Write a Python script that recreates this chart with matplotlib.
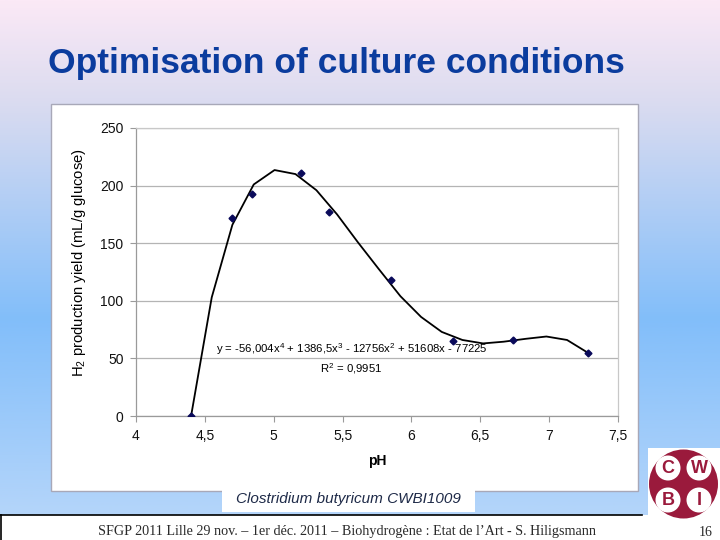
import numpy as np
import matplotlib
matplotlib.use("Agg")
import matplotlib.pyplot as plt
from matplotlib.colors import LinearSegmentedColormap
from matplotlib.patches import Rectangle, Circle

plt.rcParams['font.family'] = ['Liberation Sans', 'DejaVu Sans']
plt.rcParams['mathtext.fontset'] = 'custom'
plt.rcParams['mathtext.rm'] = 'Liberation Sans'
plt.rcParams['mathtext.it'] = 'Liberation Sans:italic'

# ---- data ----
ph_points = [4.40, 4.70, 4.84, 5.20, 5.40, 5.85, 6.30, 6.74, 7.28]
yield_points = [0, 172, 193, 211, 177, 118, 65, 66, 55]

trend_ph = [4.40, 4.55, 4.70, 4.855, 5.006, 5.158, 5.31, 5.46, 5.61, 5.76,
            5.92, 6.07, 6.22, 6.37, 6.52, 6.67, 6.83, 6.98, 7.13, 7.28]
trend_yield = [0, 103, 166, 201, 213.5, 210, 196, 175, 151, 128,
               104, 86, 73, 66, 63, 64.5, 67, 69, 66, 55]

x_ticks = [4, 4.5, 5, 5.5, 6, 6.5, 7, 7.5]
x_tick_labels = ["4", "4,5", "5", "5,5", "6", "6,5", "7", "7,5"]
y_ticks = [0, 50, 100, 150, 200, 250]

title = "Optimisation of culture conditions"
ylabel = "H$_2$ production yield (mL/g glucose)"
xlabel = "pH"
equation = "y = -56,004x$^4$ + 1386,5x$^3$ - 12756x$^2$ + 51608x - 77225"
r2_text = "R$^2$ = 0,9951"
caption = "Clostridium butyricum CWBI1009"
footer = "SFGP 2011 Lille 29 nov. – 1er déc. 2011 – Biohydrogène : Etat de l’Art - S. Hiligsmann"
page = "16"

W, H = 720, 540
fig = plt.figure(figsize=(7.2, 5.4), dpi=100)

# ---- background (pixel coordinates) ----
bg = fig.add_axes([0, 0, 1, 1])
bg.set_xlim(0, W)
bg.set_ylim(H, 0)
bg.axis('off')
cmap = LinearSegmentedColormap.from_list(
    "slide", [(0.0, "#fbe9f6"), (0.19, "#dcdcf0"), (0.62, "#82befa"), (1.0, "#b4d5fa")])
grad = np.linspace(0, 1, 256).reshape(-1, 1)
bg.imshow(grad, cmap=cmap, aspect='auto', extent=[0, W, 515, 0], zorder=0)
bg.add_patch(Rectangle((0, 515), W, 25, facecolor='white', edgecolor='none', zorder=1))
bg.plot([0, 642], [515, 515], color='black', lw=1.2, zorder=2)
bg.plot([1, 1], [515, 540], color='black', lw=1.2, zorder=2)

# chart panel
bg.add_patch(Rectangle((51, 104), 587, 387, facecolor='white', edgecolor='#a8a8b8', lw=1.0, zorder=2))

# caption box
bg.add_patch(Rectangle((222, 485), 253, 27, facecolor='white', edgecolor='none', zorder=3))
bg.text(348.5, 498.5, caption, fontsize=11, style='italic', color='#1e2a48',
        ha='center', va='center', zorder=4)

# title
bg.text(48, 63, title, fontsize=25.5, fontweight='bold', color='#0b3c9e',
        ha='left', va='center', zorder=4)

# footer
bg.text(347, 532, footer, fontsize=10.2, family=['Liberation Serif', 'DejaVu Serif'],
        color='#2a2a2a', ha='center', va='center', zorder=4)
bg.text(706, 532, page, fontsize=10, family=['Liberation Serif', 'DejaVu Serif'],
        color='#2a2a2a', ha='center', va='center', zorder=4)

# logo
bg.add_patch(Rectangle((648, 448), 72, 67, facecolor='white', edgecolor='none', zorder=3))
maroon = '#9a1a3c'
bg.add_patch(Circle((683.5, 484), 34.5, facecolor=maroon, edgecolor='none', zorder=4))
for (cx, cy, letter) in [(668, 468, 'C'), (699, 468, 'W'), (668, 500, 'B'), (699, 500, 'I')]:
    bg.add_patch(Circle((cx, cy), 12.5, facecolor='white', edgecolor='none', zorder=5))
    bg.text(cx, cy + 0.5, letter, fontsize=13, fontweight='bold', color=maroon,
            ha='center', va='center', zorder=6)

# ---- chart axes ----
ax = fig.add_axes([136 / W, 1 - 416 / H, (618 - 136) / W, (416 - 128) / H])
ax.set_facecolor('white')
ax.set_xlim(4, 7.5)
ax.set_ylim(0, 250)
ax.set_xticks(x_ticks)
ax.set_xticklabels(x_tick_labels)
ax.set_yticks(y_ticks)
ax.yaxis.grid(True, color='#b4b4b4', lw=0.9)
ax.set_axisbelow(True)
for s in ['top', 'right']:
    ax.spines[s].set_color('#c8c8c8')
    ax.spines[s].set_linewidth(0.9)
for s in ['left', 'bottom']:
    ax.spines[s].set_color('#9a9a9a')
    ax.spines[s].set_linewidth(0.9)
ax.tick_params(axis='both', direction='out', length=4, width=0.8, color='#9a9a9a',
               labelsize=10, labelcolor='#111111', pad=5)

ax.plot(trend_ph, trend_yield, color='black', lw=1.3, zorder=3)
ax.plot(ph_points, yield_points, linestyle='none', marker='D', markersize=3.5,
        color='#0a0a5a', zorder=4)

ax.set_xlabel(xlabel, fontsize=10, fontweight='bold', labelpad=8)
ax.set_ylabel(ylabel, fontsize=10.7)
ax.yaxis.set_label_coords((88 - 136) / 482, (416 - 262) / 288)

ax.text(351.5, 349, equation, transform=bg.transData, fontsize=8.2,
        ha='center', va='center', zorder=5)
ax.text(351, 369, r2_text, transform=bg.transData, fontsize=8.2,
        ha='center', va='center', zorder=5)

fig.savefig("out.png", dpi=100)
